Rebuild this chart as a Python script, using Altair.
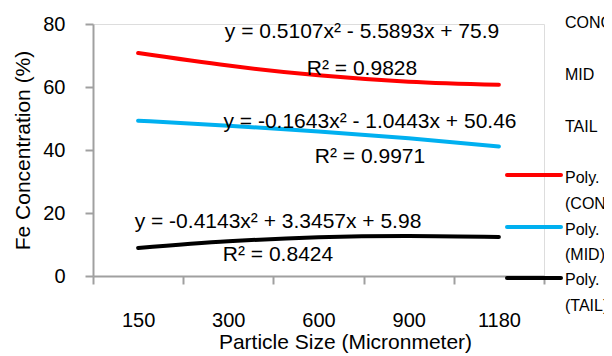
import altair as alt
import pandas as pd

sizes = ["150", "300", "600", "900", "1180"]
conc = [70.8, 66.8, 63.7, 61.7, 60.7]
mid = [49.3, 47.7, 45.9, 43.7, 41.1]
tail = [8.9, 11.0, 12.3, 12.7, 12.4]
series = ["CONC", "MID", "TAIL"]
colors = ["#FF0000", "#00B0F0", "#000000"]
equations = [
    "y = 0.5107x² - 5.5893x + 75.9",
    "y = -0.1643x² - 1.0443x + 50.46",
    "y = -0.4143x² + 3.3457x + 5.98",
]
r2_labels = ["R² = 0.9828", "R² = 0.9971", "R² = 0.8424"]
poly_labels = [["Poly.", "(CONC)"], ["Poly.", "(MID)"], ["Poly.", "(TAIL)"]]

NARROW = "Liberation Sans"
REG = "Liberation Sans"
GRAY = "#A0A0A0"

df = pd.DataFrame({
    "size": sizes * 3,
    "series": [s for s in series for _ in sizes],
    "value": conc + mid + tail,
})

xscale = alt.Scale(type="band", domain=sizes, paddingInner=0, paddingOuter=0)

lines = alt.Chart(df).mark_line(strokeWidth=4, interpolate="natural", strokeCap="round").encode(
    x=alt.X("size:N", sort=sizes, scale=xscale, axis=alt.Axis(
        title="Particle Size (Micronmeter)", labelAngle=0, tickBand="extent",
        tickSize=8, tickWidth=2, tickColor=GRAY, domainColor=GRAY, domainWidth=2,
        labelFont=NARROW, labelFontSize=20, labelPadding=26, labelColor="black",
        titleFont=REG, titleFontSize=21, titleFontWeight="normal", titleColor="black",
        titleX=252, titleY=72, titleBaseline="alphabetic", titleAlign="center", grid=False)),
    y=alt.Y("value:Q", scale=alt.Scale(domain=[0, 80]), axis=alt.Axis(
        title="Fe Concentration (%)", values=[0, 20, 40, 60, 80],
        tickSize=8, tickWidth=2, tickColor=GRAY, domainColor=GRAY, domainWidth=2,
        labelFont=NARROW, labelFontSize=20, labelPadding=20, labelColor="black",
        titleFont=REG, titleFontSize=21, titleFontWeight="normal", titleColor="black",
        titleAngle=270, titleX=-64, titleY=126, titleBaseline="alphabetic",
        titleAlign="center", grid=False)),
    color=alt.Color("series:N", scale=alt.Scale(domain=series, range=colors), legend=None),
)

layers = [lines]

# trendline equation annotations (centre x, baseline y relative to plot area)
eq_pos = [(269, 14), (277, 104), (185, 204)]
r2_pos = [(269, 51), (277, 139), (185, 237)]
for txt, (px, py) in zip(equations, eq_pos):
    layers.append(alt.Chart(pd.DataFrame({"t": [txt]})).mark_text(
        font=REG, fontSize=21, align="center", baseline="alphabetic", color="black"
    ).encode(text="t:N", x=alt.value(px), y=alt.value(py)))
for txt, (px, py) in zip(r2_labels, r2_pos):
    layers.append(alt.Chart(pd.DataFrame({"t": [txt]})).mark_text(
        font=REG, fontSize=21, align="center", baseline="alphabetic", color="black"
    ).encode(text="t:N", x=alt.value(px), y=alt.value(py)))

# legend
leg_x = 472
for i, s in enumerate(series):
    layers.append(alt.Chart(pd.DataFrame({"t": [s]})).mark_text(
        font=NARROW, fontSize=16, align="left", baseline="alphabetic", color="black"
    ).encode(text="t:N", x=alt.value(leg_x), y=alt.value(4 + 52 * i)))
line_y = [151, 203, 254]
text_y = [[159, 185], [211, 236], [261, 287]]
for i, s in enumerate(series):
    layers.append(alt.Chart(pd.DataFrame({"s": [s]})).mark_rule(
        strokeWidth=4, strokeCap="round", color=colors[i]
    ).encode(x=alt.value(414), x2=alt.value(468), y=alt.value(line_y[i])))
    for j, t in enumerate(poly_labels[i]):
        layers.append(alt.Chart(pd.DataFrame({"t": [t]})).mark_text(
            font=NARROW, fontSize=16, align="left", baseline="alphabetic", color="black"
        ).encode(text="t:N", x=alt.value(leg_x), y=alt.value(text_y[i][j])))

chart = alt.layer(*layers).properties(
    width=451, height=252,
    autosize=alt.AutoSizeParams(type="none"),
    padding={"left": 85, "top": 16, "right": 60, "bottom": 78},
).configure_view(stroke=None).configure(background="white")

chart.save("out.html", embed_options={"renderer": "svg", "actions": False})
